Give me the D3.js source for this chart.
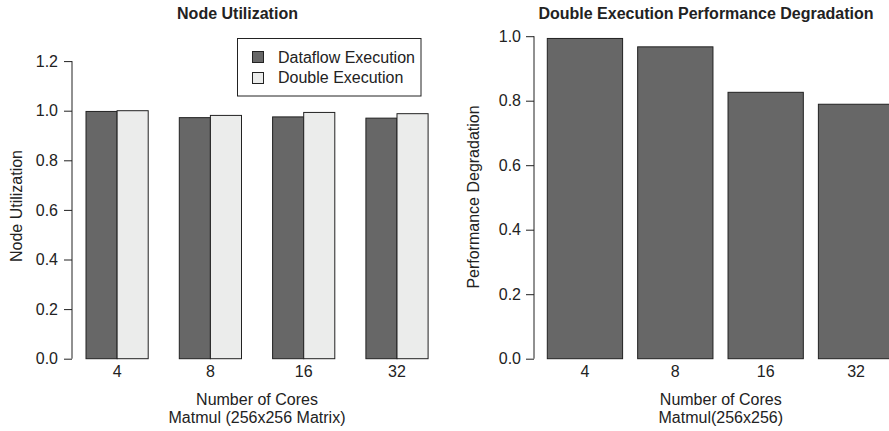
<!DOCTYPE html>
<html>
<head>
<meta charset="utf-8">
<script src="https://cdn.jsdelivr.net/npm/d3@7"></script>
<style>
  html, body { margin: 0; padding: 0; background: #fff; }
  svg { display: block; font-family: "Liberation Sans", Arial, Helvetica, sans-serif; }
</style>
</head>
<body>
<svg id="chart" width="889" height="431"></svg>
<script>
// Core counts shared by both panels
const cores = ["4", "8", "16", "32"];

// Left panel: node utilization per execution mode
const seriesNames = ["Dataflow Execution", "Double Execution"];
const dataflowUtil = [0.997, 0.972, 0.975, 0.970];
const doubleUtil = [1.000, 0.981, 0.993, 0.988];
const utilTicks = [0.0, 0.2, 0.4, 0.6, 0.8, 1.0, 1.2];

// Right panel: performance degradation of double execution
const degradation = [0.993, 0.967, 0.826, 0.789];
const degTicks = [0.0, 0.2, 0.4, 0.6, 0.8, 1.0];

const DARK = "#676767";
const LIGHT = "#ebeceb";
const INK = "#222";
const FS = 16;

const svg = d3.select("#chart");

function yAxis(g, y, ticks, pad) {
  const ax = d3.axisLeft(y).tickValues(ticks).tickFormat(d3.format(".1f"))
    .tickSize(8).tickPadding(pad);
  g.call(ax);
  g.select(".domain").attr("stroke", INK).attr("d",
    `M0,${y(ticks[0])}V${y(ticks[ticks.length - 1])}`);
  g.selectAll(".tick line").attr("stroke", INK);
  g.selectAll(".tick text").attr("font-size", FS).attr("fill", INK)
    .attr("font-family", "Liberation Sans, Arial, sans-serif");
}

function label(g, x, y, txt, opts = {}) {
  const t = g.append("text").attr("x", x).attr("y", y).attr("text-anchor", "middle")
    .attr("font-size", FS).attr("fill", INK).text(txt);
  if (opts.bold) t.attr("font-weight", "bold");
  return t;
}

// ---------- Left panel ----------
{
  const axisX = 72, plotRight = 442;
  const y = d3.scaleLinear().domain([0, 1]).range([358.7, 110.7]);
  // grouped bars: each group occupies 3 units (gap + 2 bars)
  const unit = 31.1;
  const x0 = d3.scaleBand().domain(cores)
    .range([86 - unit, 86 - unit + 12 * unit]);
  const x1 = d3.scaleBand().domain(seriesNames)
    .range([unit, 3 * unit]);

  const g = svg.append("g");
  const rows = cores.map((c, i) => ({ core: c, vals: [dataflowUtil[i], doubleUtil[i]] }));
  const grp = g.selectAll("g.grp").data(rows).join("g")
    .attr("transform", d => `translate(${x0(d.core)},0)`);
  grp.selectAll("rect").data(d => d.vals.map((v, k) => ({ k, v }))).join("rect")
    .attr("x", d => x1(seriesNames[d.k]))
    .attr("width", x1.bandwidth())
    .attr("y", d => y(d.v))
    .attr("height", d => y(0) - y(d.v))
    .attr("fill", d => d.k === 0 ? DARK : LIGHT)
    .attr("stroke", INK).attr("stroke-width", 1);

  yAxis(g.append("g").attr("transform", `translate(${axisX},0)`), y, utilTicks, 6);

  // category labels under each group
  g.selectAll("text.cat").data(cores).join("text")
    .attr("x", d => x0(d) + 2 * unit)
    .attr("y", 377)
    .attr("text-anchor", "middle").attr("font-size", FS).attr("fill", INK)
    .text(d => d);

  const cx = (axisX + plotRight) / 2;
  label(g, cx, 405, "Number of Cores");
  label(g, cx, 423, "Matmul (256x256 Matrix)");
  label(g, 237.5, 18.5, "Node Utilization", { bold: true });
  g.append("text").attr("transform", `translate(22,206) rotate(-90)`)
    .attr("text-anchor", "middle").attr("font-size", FS).attr("fill", INK).text("Node Utilization");

  // legend
  const lg = g.append("g");
  lg.append("rect").attr("x", 237.5).attr("y", 38.5).attr("width", 183.5).attr("height", 57.5)
    .attr("fill", "#fff").attr("stroke", INK);
  seriesNames.forEach((name, k) => {
    lg.append("rect").attr("x", 252.5).attr("y", 51.5 + k * 21).attr("width", 11).attr("height", 11)
      .attr("fill", k === 0 ? DARK : LIGHT).attr("stroke", INK);
    lg.append("text").attr("x", 278).attr("y", 63.3 + k * 19.5)
      .attr("font-size", FS).attr("fill", INK).text(name);
  });
}

// ---------- Right panel ----------
{
  const axisX = 534, plotRight = 907.5;
  const y = d3.scaleLinear().domain([0, 1]).range([358.7, 36.2]);
  const unit = 75.3;
  // each bar is 1 unit wide with a 0.2 unit gap between bars
  const x = d3.scaleBand().domain(cores)
    .range([547.3 - 0.1 * unit, 547.3 + 4.7 * unit])
    .paddingInner(0.2 / 1.2).paddingOuter(0.1 / 1.2);

  const g = svg.append("g");
  g.selectAll("rect").data(cores).join("rect")
    .attr("x", d => x(d))
    .attr("width", x.bandwidth())
    .attr("y", (d, i) => y(degradation[i]))
    .attr("height", (d, i) => y(0) - y(degradation[i]))
    .attr("fill", DARK).attr("stroke", INK).attr("stroke-width", 1);

  yAxis(g.append("g").attr("transform", `translate(${axisX},0)`), y, degTicks, 5);

  g.selectAll("text.cat").data(cores).join("text")
    .attr("x", d => x(d) + x.bandwidth() / 2)
    .attr("y", 377)
    .attr("text-anchor", "middle").attr("font-size", FS).attr("fill", INK)
    .text(d => d);

  const cx = (axisX + plotRight) / 2;
  label(g, cx, 405, "Number of Cores");
  label(g, cx, 423, "Matmul(256x256)");
  label(g, 706, 18.5, "Double Execution Performance Degradation", { bold: true });
  g.append("text").attr("transform", `translate(479,197) rotate(-90)`)
    .attr("text-anchor", "middle").attr("font-size", FS).attr("fill", INK)
    .text("Performance Degradation");
}
</script>
</body>
</html>
